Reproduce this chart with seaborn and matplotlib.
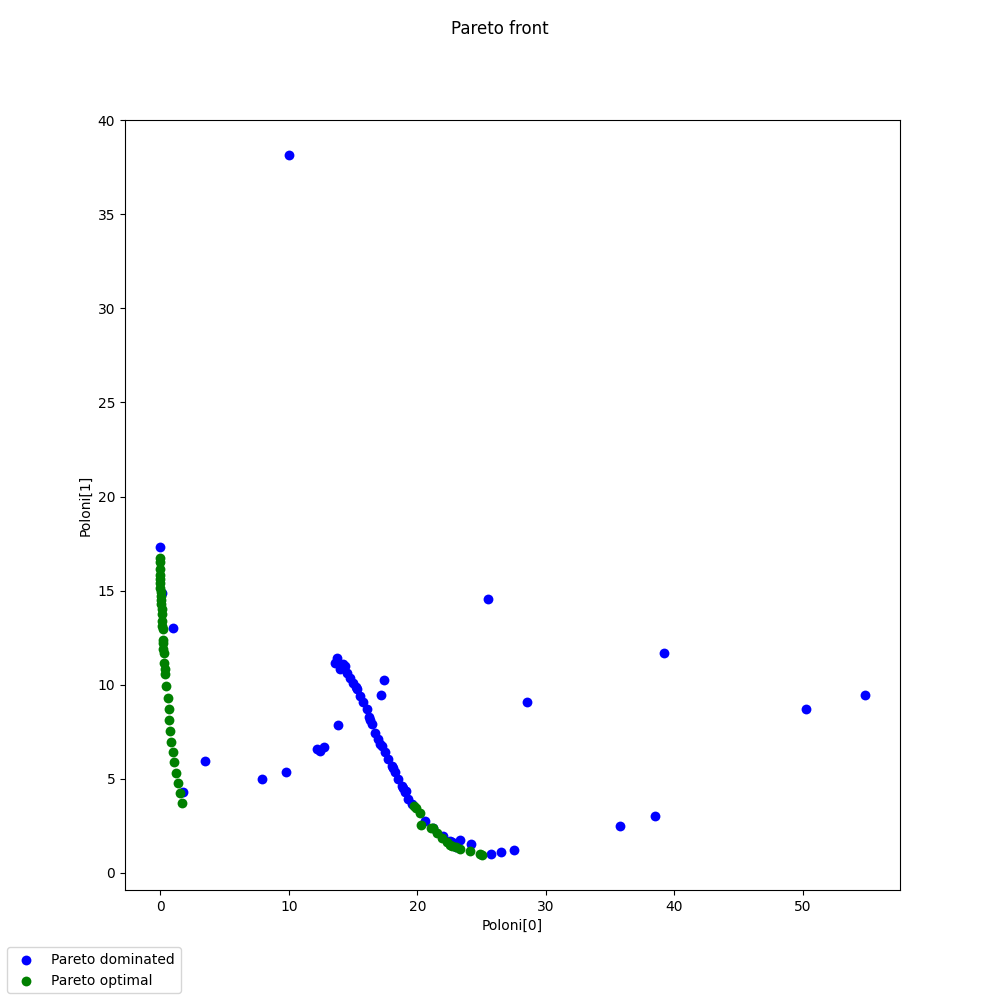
import matplotlib
matplotlib.use("Agg")
import matplotlib.pyplot as plt
import seaborn as sns
import pandas as pd

# Pareto dominated points
dom_x = [0.0, 0.15, 1.0, 3.5, 1.8, 10.0, 7.9, 9.8, 12.2, 12.4, 12.75, 13.8, 17.4, 17.2,
         25.5, 28.5, 35.8, 38.5, 39.2, 50.2, 54.8,
         26.5, 27.55, 25.7, 24.2, 23.3, 22.7, 22.5, 22.0, 20.6,
         13.74, 13.6, 14.25, 14.0, 14.5, 14.77, 15.03, 15.3, 15.55, 15.8, 16.07, 16.2,
         16.46, 16.72, 16.97, 17.24, 17.5, 17.75, 18.0, 18.27, 18.53, 18.79, 19.05,
         19.3, 19.57, 19.1, 21.2, 23.0, 14.4, 15.2, 16.3, 17.1, 18.1, 18.9]
dom_y = [17.3, 14.9, 13.0, 5.95, 4.3, 38.15, 5.0, 5.35, 6.6, 6.5, 6.7, 7.85, 10.25, 9.45,
         14.55, 9.07, 2.5, 3.0, 11.67, 8.7, 9.45,
         1.1, 1.22, 1.0, 1.54, 1.75, 1.65, 1.7, 1.98, 2.78,
         11.44, 11.17, 11.09, 10.82, 10.64, 10.38, 10.11, 9.76, 9.41, 9.06, 8.7, 8.26,
         7.9, 7.46, 7.1, 6.75, 6.4, 6.05, 5.69, 5.34, 4.99, 4.63, 4.28,
         3.93, 3.66, 4.36, 2.4, 1.35, 11.0, 9.9, 8.1, 6.85, 5.55, 4.5]

# Pareto optimal points
opt_x = [0.0, 0.0, 0.0, 0.0, 0.0, 0.02, 0.02, 0.05, 0.05, 0.06, 0.08, 0.1, 0.1, 0.13,
         0.15, 0.18, 0.21, 0.22, 0.24, 0.26, 0.31, 0.35, 0.39, 0.47, 0.57, 0.65, 0.72,
         0.78, 0.86, 0.99, 1.09, 1.24, 1.38, 1.55, 1.73,
         19.75, 19.9, 20.2, 20.27, 21.05, 21.2, 21.5, 21.9, 22.3, 22.5, 22.7, 23.0,
         23.3, 24.1, 24.9, 25.0]
opt_y = [16.75, 16.5, 16.13, 15.85, 15.6, 15.4, 15.16, 14.95, 14.7, 14.5, 14.27, 14.0,
         13.74, 13.4, 13.1, 12.94, 12.4, 12.2, 11.9, 11.7, 11.17, 10.85, 10.56, 9.94,
         9.32, 8.7, 8.13, 7.55, 6.98, 6.4, 5.87, 5.29, 4.76, 4.23, 3.7,
         3.57, 3.45, 3.17, 2.55, 2.37, 2.4, 2.1, 1.84, 1.62, 1.5, 1.45, 1.35,
         1.27, 1.18, 1.0, 0.95]

fig = plt.figure(figsize=(10, 10), dpi=100)
ax = fig.add_subplot(111)

dom = pd.DataFrame({"x": dom_x, "y": dom_y})
opt = pd.DataFrame({"x": opt_x, "y": opt_y})

sns.scatterplot(data=dom, x="x", y="y", color="blue", s=50, linewidth=0,
                ax=ax, label="Pareto dominated")
sns.scatterplot(data=opt, x="x", y="y", color="green", s=50, linewidth=0,
                ax=ax, label="Pareto optimal")

ax.set_xlabel("Poloni[0]")
ax.set_ylabel("Poloni[1]")
ax.set_yticks([0, 5, 10, 15, 20, 25, 30, 35, 40])
fig.suptitle("Pareto front")

handles, labels = ax.get_legend_handles_labels()
ax.get_legend().remove()
fig.legend(handles, labels, loc="lower left")

fig.savefig("out.png", dpi=100)
